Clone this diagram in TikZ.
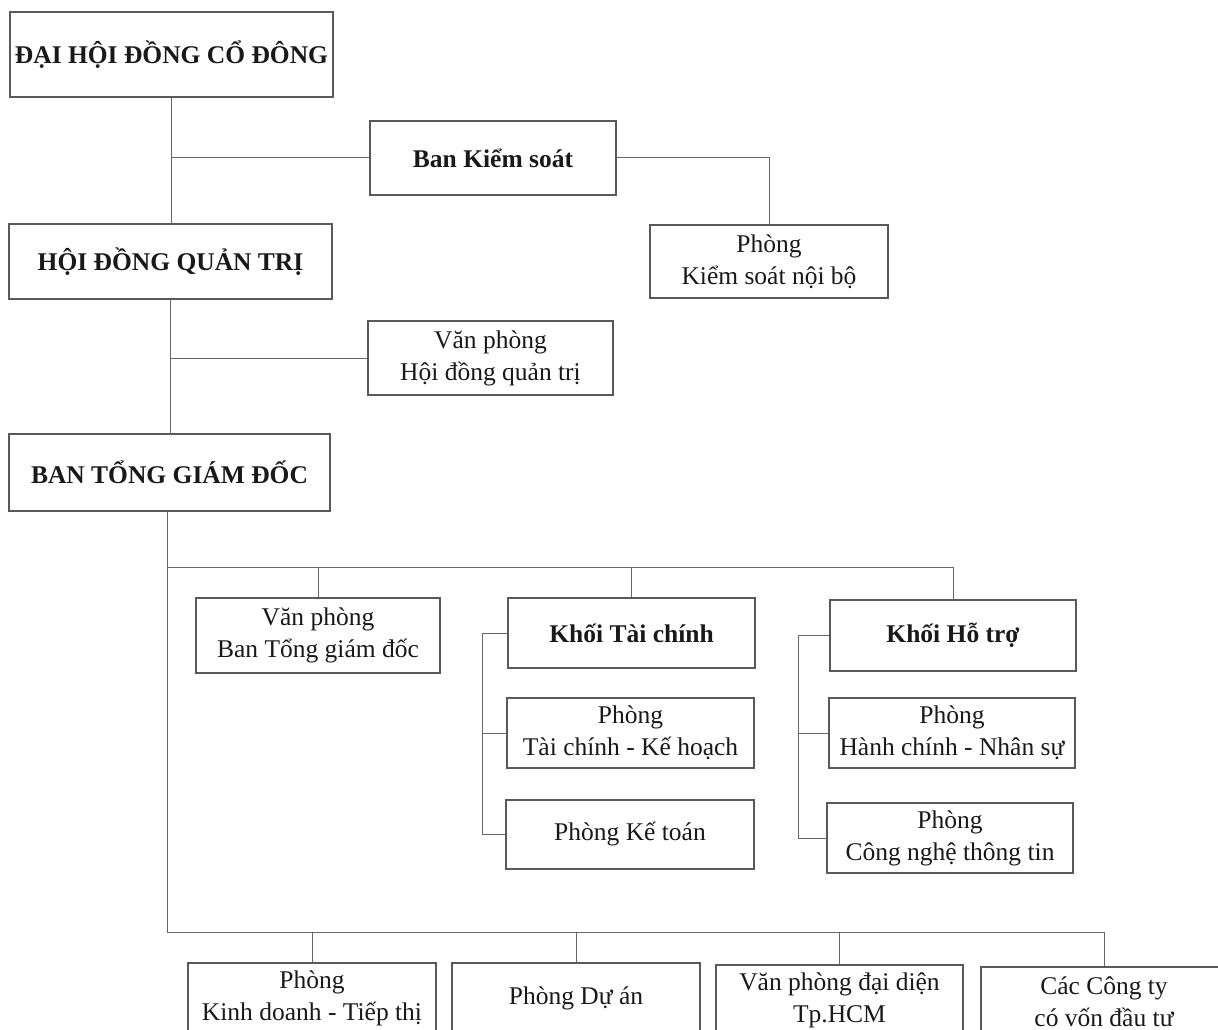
\documentclass[tikz,border=0pt]{standalone}
\usepackage{fontspec}
\setmainfont{Liberation Serif}
\usepackage{tikz}

\begin{document}
\begin{tikzpicture}[x=1pt,y=-1pt,
% Box styles
    unit/.style={rectangle,draw=black!65,line width=1.1pt,align=center,
		inner sep=0pt,text=black!90,font=\fontsize{25.5}{32}\selectfont},
    head/.style={unit,font=\bfseries\fontsize{25.5}{32}\selectfont},
% Connector style
    link/.style={draw=black!60,line width=1pt}
    ]
   \useasboundingbox (0,0) rectangle (1218,1030);
   \clip (0,0) rectangle (1218,1030);
%% Board levels
   \node (dhcd) [head,minimum width=323pt,minimum height=85pt] at (171.5,54.5)
		{ĐẠI HỘI ĐỒNG CỔ ĐÔNG};
   \node (bks) [head,minimum width=246pt,minimum height=74pt] at (493,158)
		{Ban Kiểm soát};
   \node (hdqt) [head,minimum width=323pt,minimum height=75pt] at (170.5,261.5)
		{HỘI ĐỒNG QUẢN TRỊ};
   \node (ksnb) [unit,minimum width=238pt,minimum height=73pt] at (769,261.5)
		{Phòng\\Kiểm soát nội bộ};
   \node (vphdqt) [unit,minimum width=245pt,minimum height=74pt] at (490.5,358)
		{Văn phòng\\Hội đồng quản trị};
   \node (btgd) [head,minimum width=321pt,minimum height=77pt] at (169.5,472.5)
		{BAN TỔNG GIÁM ĐỐC};
%% Departments under the directors
   \node (vpbtgd) [unit,minimum width=244pt,minimum height=75pt] at (318,635.5)
		{Văn phòng\\Ban Tổng giám đốc};
   \node (ktc) [head,minimum width=247pt,minimum height=70pt] at (631.5,633)
		{Khối Tài chính};
   \node (kht) [head,minimum width=246pt,minimum height=71pt] at (953,635.5)
		{Khối Hỗ trợ};
   \node (tckh) [unit,minimum width=247pt,minimum height=70pt] at (630.5,733)
		{Phòng\\Tài chính - Kế hoạch};
   \node (hcns) [unit,minimum width=246pt,minimum height=70pt] at (952,733)
		{Phòng\\Hành chính - Nhân sự};
   \node (kt) [unit,minimum width=248pt,minimum height=69pt] at (630,834.5)
		{Phòng Kế toán};
   \node (cntt) [unit,minimum width=246pt,minimum height=70pt] at (950,838)
		{Phòng\\Công nghệ thông tin};
%% Bottom row
   \node (kdtt) [unit,minimum width=248pt,minimum height=70pt] at (312,998)
		{Phòng\\Kinh doanh - Tiếp thị};
   \node (da) [unit,minimum width=248pt,minimum height=70pt] at (576,998)
		{Phòng Dự án};
   \node (vpdd) [unit,minimum width=247pt,minimum height=70pt] at (839.5,1000)
		{Văn phòng đại diện\\Tp.HCM};
   \node (cty) [unit,minimum width=246pt,minimum height=70pt] at (1104,1002)
		{Các Công ty\\có vốn đầu tư};
%% Bus points
   \coordinate (bus1) at (167,567);
   \coordinate (bus2) at (167,932);
   \coordinate (tcx) at (482,0);
   \coordinate (htx) at (798,0);
%% Draw connectors
   \draw [link] (dhcd.south) -- (dhcd.south |- hdqt.north);
   \draw [link] (bks.west) -- (bks.west -| dhcd.south);
   \draw [link] (bks.east) -| (ksnb.north);
   \draw [link] (hdqt.south) -- (hdqt.south |- btgd.north);
   \draw [link] (vphdqt.west) -- (vphdqt.west -| hdqt.south);
   \draw [link] (btgd.south -| bus2) -- (bus2) -- (bus2 -| cty.north);
   \draw [link] (bus1) -- (bus1 -| kht.north);
   \foreach \n in {vpbtgd,ktc,kht}
	\draw [link] (bus1 -| \n.north) -- (\n.north);
   \foreach \n in {kdtt,da,vpdd,cty}
	\draw [link] (bus2 -| \n.north) -- (\n.north);
   \draw [link] (ktc.west) -- (ktc.west -| tcx) -- (kt.west -| tcx) -- (kt.west);
   \draw [link] (tckh.west) -- (tckh.west -| tcx);
   \draw [link] (kht.west) -- (kht.west -| htx) -- (cntt.west -| htx) -- (cntt.west);
   \draw [link] (hcns.west) -- (hcns.west -| htx);
\end{tikzpicture}
\end{document}
